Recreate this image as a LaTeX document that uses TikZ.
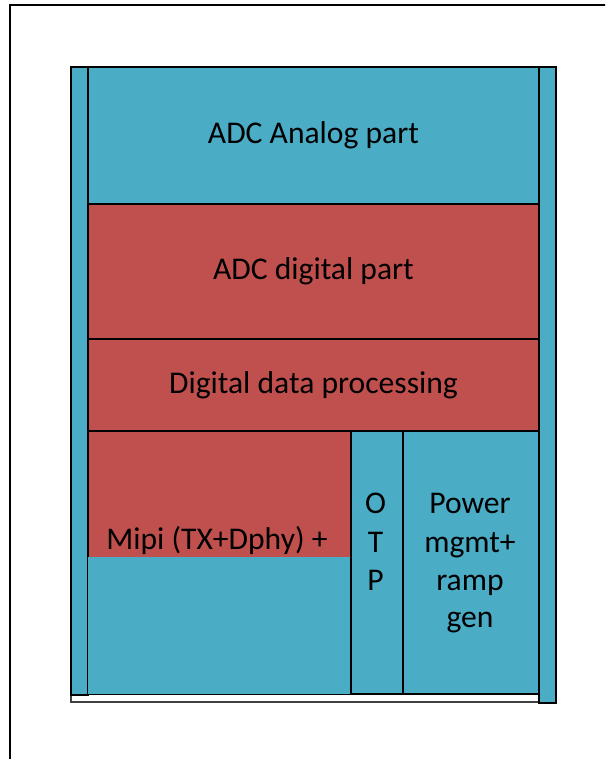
\documentclass[tikz,border=0pt]{standalone}
\usepackage{fontspec}
\setmainfont{Carlito}
\definecolor{bluefill}{HTML}{4BACC6}
\definecolor{redfill}{HTML}{C0504D}
\begin{document}
\begin{tikzpicture}[x=1pt,y=-1pt,
  blk/.style={draw=black,line width=2pt,inner sep=0pt,anchor=north west,
    font=\fontsize{31.6}{38}\selectfont,align=center},
  lbl/.style={inner sep=0pt,anchor=base,font=\fontsize{31.6}{38}\selectfont},
  ]
\useasboundingbox (0,0) rectangle (605,759);
\clip (0,0) rectangle (605,759);
% outer page frame
\draw[line width=2pt] (10,780) -- (10,5) -- (640,5);
% container
\node[blk,draw=black!75,line width=1.5pt,fill=white,minimum width=468pt,minimum height=635pt] (frame) at (70,66) {};
% side strips
\node[blk,fill=bluefill,minimum width=17pt,minimum height=628pt] (lstrip) at (70,66) {};
\node[blk,fill=bluefill,minimum width=17pt,minimum height=636pt] (rstrip) at (538,66) {};
% rows
\node[blk,fill=bluefill,minimum width=451pt,minimum height=137pt] (analog) at (87,66) {ADC Analog part};
\node[blk,fill=redfill,minimum width=451pt,minimum height=135pt] (digital) at (87,203) {ADC digital part};
\node[blk,fill=redfill,minimum width=451pt,minimum height=92pt] (ddp) at (87,338) {Digital data processing};
% bottom row
\node[blk,fill=redfill,minimum width=263pt,minimum height=263pt] (mipi) at (87,430) {};
\node[lbl] (mipitext) at (217,549) {Mipi (TX+Dphy) +};
\node[inner sep=0pt,anchor=north west,fill=bluefill,minimum width=262pt,minimum height=137pt] (mipicover) at (88,557) {};
\node[blk,fill=bluefill,minimum width=52pt,minimum height=263pt] (otp) at (350,430) {};
\node[blk,fill=bluefill,minimum width=136pt,minimum height=263pt] (power) at (402,430) {};
% OTP letters
\node[lbl] (otpO) at (375.5,513) {O};
\node[lbl] (otpT) at (375.5,552) {T};
\node[lbl] (otpP) at (375.5,590) {P};
% Power text
\node[lbl] (pw1) at (470,513) {Power};
\node[lbl] (pw2) at (470,552) {mgmt+};
\node[lbl] (pw3) at (470,590) {ramp};
\node[lbl] (pw4) at (470,627) {gen};
\end{tikzpicture}
\end{document}
